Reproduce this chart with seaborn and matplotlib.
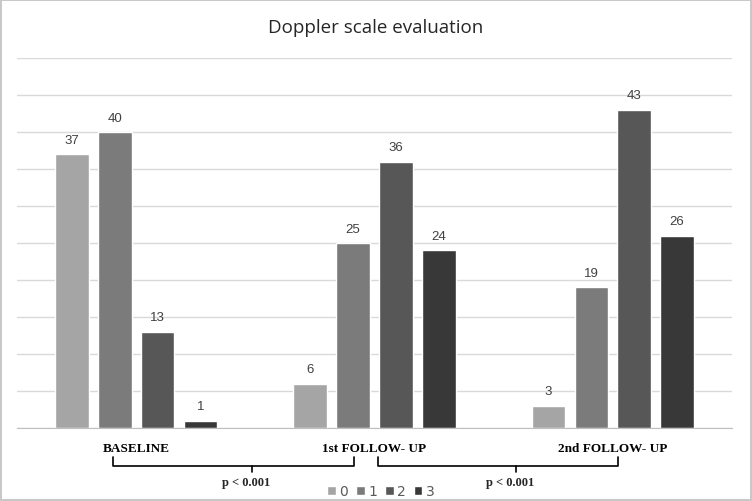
import matplotlib
matplotlib.use("Agg")
import matplotlib.pyplot as plt
import matplotlib.transforms as mtransforms
import pandas as pd
import seaborn as sns

# ── Data ──────────────────────────────────────────────────────────────────────
visits = ["BASELINE", "1st FOLLOW- UP", "2nd FOLLOW- UP"]
scores = ["0", "1", "2", "3"]
counts = {
    "0": [37, 6, 3],
    "1": [40, 25, 19],
    "2": [13, 36, 43],
    "3": [1, 24, 26],
}
p_labels = ["p < 0.001", "p < 0.001"]

COLORS = ["#a5a5a5", "#7b7b7b", "#575757", "#383838"]

rows = []
for s in scores:
    for v, c in zip(visits, counts[s]):
        rows.append({"visit": v, "score": s, "count": c})
df = pd.DataFrame(rows)

# ── Figure ────────────────────────────────────────────────────────────────────
sns.set_style("white")
fig = plt.figure(figsize=(7.52, 5.02), dpi=100)
fig.patch.set_edgecolor("#c8c8c8")
fig.patch.set_linewidth(1.5)
W, H = 752, 502
ax = fig.add_axes([17 / W, 73 / H, 715 / W, 370 / H])

sns.barplot(data=df, x="visit", y="count", hue="score", order=visits,
            hue_order=scores, palette=COLORS, width=0.72, gap=0.215,
            saturation=1, ax=ax)

for cont in ax.containers:
    ax.bar_label(cont, padding=6, fontsize=9.5, color="#404040",
                 family="Liberation Sans")

ax.set_ylim(0, 50)
ax.set_xlim(-0.5, 2.5)
ax.set_yticks(range(0, 51, 5))
ax.set_yticklabels([])
ax.tick_params(axis="y", length=0)
ax.yaxis.grid(True, color="#d9d9d9", lw=1)
ax.set_axisbelow(True)
for sp in ["left", "right", "top"]:
    ax.spines[sp].set_visible(False)
ax.spines["bottom"].set_color("#bfbfbf")

ax.set_xticks([-0.5, 0.5, 1.5, 2.5], minor=True)
ax.tick_params(axis="x", which="minor", length=5, color="#bfbfbf")
ax.tick_params(axis="x", which="major", length=0, pad=10)
ax.set_xticklabels(visits, family="Liberation Serif", fontweight="bold",
                   fontsize=9.5, color="black")
ax.set_xlabel("")
ax.set_ylabel("")

fig.text(0.5, 1 - 28 / H, "Doppler scale evaluation", ha="center",
         va="center", fontsize=13.5, color="#262626", family="Open Sans")

# ── Significance brackets (pixel x positions converted to category units) ────
def px_to_x(px):
    return (px - 17) / (715 / 3) - 0.5

trans = mtransforms.blended_transform_factory(ax.transData, fig.transFigure)
y_top = 1 - 458 / H
y_mid = 1 - 467 / H
y_tick = 1 - 473 / H
brackets = [(113, 354, 252, 246), (378, 618, 516, 510)]
for (x0, x1, xt, xp), lab in zip(brackets, p_labels):
    x0, x1, xt, xp = map(px_to_x, (x0, x1, xt, xp))
    ax.plot([x0, x0, x1, x1], [y_top, y_mid, y_mid, y_top], color="black",
            lw=1.2, transform=trans, clip_on=False)
    ax.plot([xt, xt], [y_mid, y_tick], color="black", lw=1.2,
            transform=trans, clip_on=False)
    ax.text(xp, 1 - 483 / H, lab, ha="center", va="center",
            family="Liberation Serif", fontweight="bold", fontsize=9,
            transform=trans)

# ── Legend ───────────────────────────────────────────────────────────────────
handles, labels = ax.get_legend_handles_labels()
ax.legend_.remove()
fig.legend(handles, labels, loc="center", ncol=4,
           bbox_to_anchor=(381 / W, 1 - 492 / H), frameon=False,
           handlelength=0.6, handleheight=0.6, handletextpad=0.25,
           columnspacing=0.6, fontsize=10, labelcolor="#595959")

fig.savefig("out.png", dpi=100)
